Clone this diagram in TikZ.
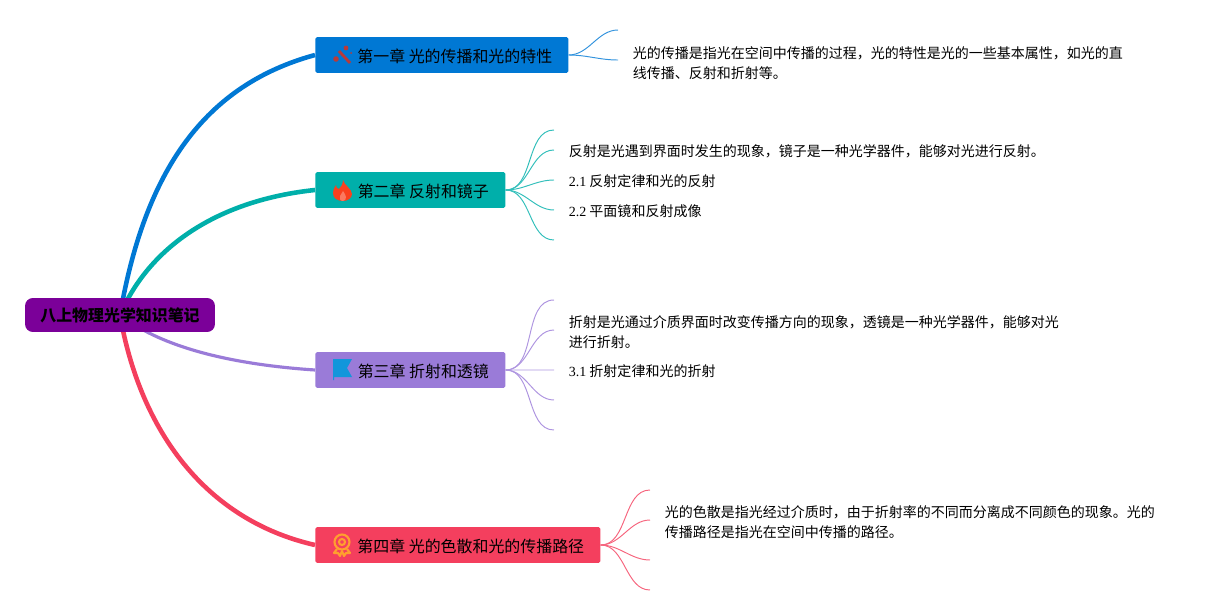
\documentclass[tikz,border=0pt]{standalone}
\usepackage{fontspec}
\setmainfont{Liberation Serif}
\newfontfamily\cjk{Noto Sans CJK SC}
\usetikzlibrary{positioning,backgrounds}
\definecolor{rootfill}{HTML}{7B0099}
\definecolor{oneblue}{HTML}{0078D4}
\definecolor{twoteal}{HTML}{00AFAA}
\definecolor{threepurple}{HTML}{9A7BD8}
\definecolor{fourred}{HTML}{F43F5E}
\definecolor{wandred}{HTML}{B83A3A}
\definecolor{flamered}{HTML}{F9401E}
\definecolor{flagblue}{HTML}{1296DB}
\definecolor{medalorange}{HTML}{FF9F2E}
\tikzset{
  rootbox/.style={fill=rootfill,rounded corners=4.5pt,minimum width=3.8cm,minimum height=0.68cm,inner sep=0pt,font=\fontsize{9.07}{11}\selectfont\cjk\bfseries},
  chapter/.style={rounded corners=1pt,minimum height=0.72cm,inner sep=0pt,anchor=west,align=left,font=\fontsize{9.07}{11}\selectfont\cjk},
  leaf/.style={anchor=west,inner ysep=0pt,inner xsep=0.29cm,align=left,font=\fontsize{7.97}{11.34}\selectfont\cjk},
  trunk/.style={line width=2.6pt},
  twig/.style={line width=0.55pt,out=0,in=180,looseness=0.95},
}
\newcommand{\num}[1]{{\rmfamily #1}}
\newcommand{\ctext}[1]{\raisebox{-0.03cm}[\height][\depth]{#1}}
\begin{document}
\begin{tikzpicture}[x=0.02cm,y=-0.02cm]
  \useasboundingbox (0,0) rectangle (1225,615);
  \node[rootbox] (root) at (120,315) {\raisebox{-0.015cm}[\height][\depth]{八上物理光学知识笔记}};
  % chapters
  \node[chapter,fill=oneblue,minimum width=5.06cm] (one) at (315,55) {\hspace{0.52cm}\ctext{第一章 光的传播和光的特性}};
  \node[chapter,fill=twoteal,minimum width=3.8cm] (two) at (315,190) {\hspace{0.52cm}\ctext{第二章 反射和镜子}};
  \node[chapter,fill=threepurple,minimum width=3.8cm] (three) at (315,370) {\hspace{0.52cm}\ctext{第三章 折射和透镜}};
  \node[chapter,fill=fourred,minimum width=5.7cm] (four) at (315,545) {\hspace{0.52cm}\ctext{第四章 光的色散和光的传播路径}};
  % leaves
  \coordinate (a1) at (618,30);
  \node[leaf] (a2) at (618,63) {光的传播是指光在空间中传播的过程，光的特性是光的一些基本属性，如光的直\\线传播、反射和折射等。};
  \coordinate (b1) at (554,130);
  \node[leaf] (b2) at (554,151) {反射是光遇到界面时发生的现象，镜子是一种光学器件，能够对光进行反射。};
  \node[leaf] (b3) at (554,181) {\num{2.1} 反射定律和光的反射};
  \node[leaf] (b4) at (554,211) {\num{2.2} 平面镜和反射成像};
  \coordinate (b5) at (554,240);
  \coordinate (c1) at (554,300);
  \node[leaf] (c2) at (554,332) {折射是光通过介质界面时改变传播方向的现象，透镜是一种光学器件，能够对光\\进行折射。};
  \node[leaf] (c3) at (554,371) {\num{3.1} 折射定律和光的折射};
  \coordinate (c4) at (554,400);
  \coordinate (c5) at (554,430);
  \coordinate (d0) at (650,490);
  \node[leaf] (d1) at (650,522) {光的色散是指光经过介质时，由于折射率的不同而分离成不同颜色的现象。光的\\传播路径是指光在空间中传播的路径。};
  \coordinate (d2) at (650,560);
  \coordinate (d3) at (650,590);
  % connectors
  \begin{scope}[on background layer]
    \draw[trunk,color=oneblue] (root.center) .. controls (145,170) and (205,85) .. (one.west);
    \draw[trunk,color=twoteal] (root.center) .. controls (150,245) and (220,200) .. (two.west);
    \draw[trunk,line width=1.8pt,color=threepurple] (root.center) .. controls (165,350) and (240,365) .. (three.west);
    \draw[trunk,color=fourred] (root.center) .. controls (140,430) and (205,520) .. (four.west);
    \draw[twig,color=oneblue!80] (one.east) to (a1);
    \draw[twig,color=oneblue!80] (one.east) to ([yshift=1.7pt]a2.west);
    \foreach \x in {b2,b3,b4} \draw[twig,color=twoteal!80] (two.east) to ([yshift=0.57pt]\x.west);
    \foreach \x in {b1,b5} \draw[twig,color=twoteal!80] (two.east) to (\x);
    \draw[twig,color=threepurple!80] (three.east) to ([yshift=1.13pt]c2.west);
    \draw[twig,color=threepurple!80] (three.east) to ([yshift=0.57pt]c3.west);
    \foreach \x in {c1,c4,c5} \draw[twig,color=threepurple!80] (three.east) to (\x);
    \draw[twig,color=fourred!80] (four.east) to ([yshift=1.13pt]d1.west);
    \foreach \x in {d0,d2,d3} \draw[twig,color=fourred!80] (four.east) to (\x);
  \end{scope}
  % icons
  \draw[wandred,line width=1.6pt] (339,51) -- (350,63);
  \fill[wandred] (336,59) circle (2.8) (346,48) circle (2.4) (351,53) circle (1);
  \fill[flamered] (343,180) .. controls (344,185) and (352,189) .. (352,194) .. controls (352,198) and (348,201) .. (343,201) .. controls (337,201) and (333,198) .. (333,193) .. controls (333,190) and (334,188) .. (336,185) .. controls (336,187) and (337,189) .. (339,189) .. controls (341,187) and (343,184) .. (343,180) -- cycle;
  \fill[flamered!70!white] (343,201) .. controls (340,201) and (339,198) .. (340,196) .. controls (341,194) and (342,193) .. (343,191) .. controls (344,193) and (346,195) .. (346,197) .. controls (346,199) and (345,201) .. (343,201) -- cycle;
  \fill[flagblue] (333,359) -- (352,359) -- (347,368) -- (352,377) -- (334,377) -- (334,380) -- (333,380) -- cycle;
  \draw[medalorange,line width=1.2pt] (342,542) circle (7.5);
  \draw[medalorange,line width=1.2pt] (342,542) circle (3);
  \draw[medalorange,line width=1.2pt,line join=round] (337,549) -- (334,553) -- (338,553) -- (340,556) -- (342,551) -- (344,556) -- (346,553) -- (350,553) -- (347,549);
\end{tikzpicture}
\end{document}
